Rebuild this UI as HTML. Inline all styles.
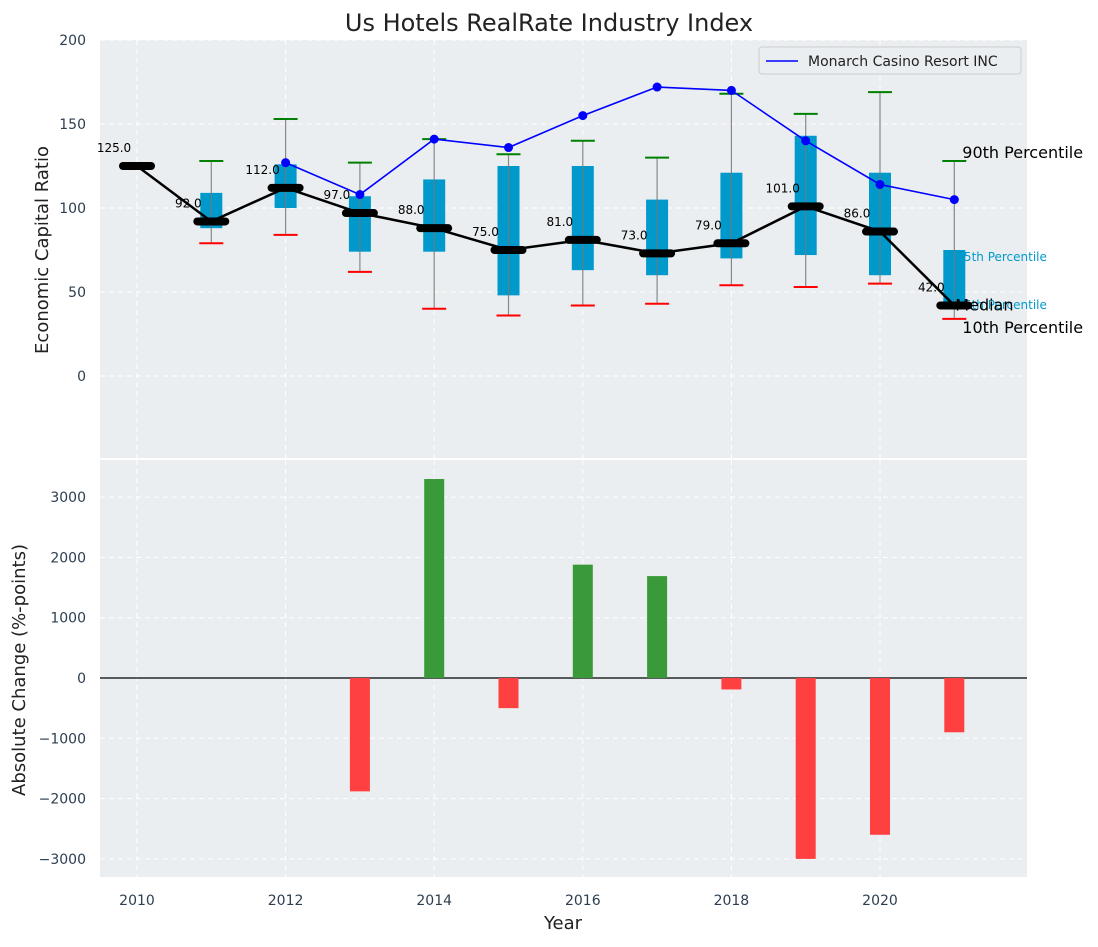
<!DOCTYPE html>
<html><head><meta charset="utf-8"><style>
body{margin:0;background:#fff;font-family:"Liberation Sans","DejaVu Sans",sans-serif}
svg text{font-family:"DejaVu Sans","Liberation Sans",sans-serif}
</style></head><body>
<svg id="c" width="1098" height="942" xmlns="http://www.w3.org/2000/svg"></svg>
<script>
const years=[2010,2011,2012,2013,2014,2015,2016,2017,2018,2019,2020,2021];
const medians=[125,92,112,97,88,75,81,73,79,101,86,42];
const q25=[null,88,100,74,74,48,63,60,70,72,60,40];
const q75=[null,109,126,107,117,125,125,105,121,143,121,75];
const p90=[null,128,153,127,141,132,140,130,168,156,169,128];
const p10=[null,79,84,62,40,36,42,43,54,53,55,34];
const compYears=[2012,2013,2014,2015,2016,2017,2018,2019,2020,2021];
const compVals=[127,108,141,136,155,172,170,140,114,105];
const changeYears=[2013,2014,2015,2016,2017,2018,2019,2020,2021];
const changes=[-1880,3300,-500,1880,1690,-190,-3000,-2600,-900];
const yTicksTop=[0,50,100,150,200];
const yTicksBot=[-3000,-2000,-1000,0,1000,2000,3000];
const xTicks=[2010,2012,2014,2016,2018,2020];

const svg=document.getElementById('c');
const NS='http://www.w3.org/2000/svg';
function el(t,a,p){const e=document.createElementNS(NS,t);for(const k in a)e.setAttribute(k,a[k]);(p||svg).appendChild(e);return e;}
const L=100,R=1027;
const X=v=>137+(v-2010)*74.3;
const T0=40,T1=458,B0=460,B1=877;
const YT=v=>376-v*1.68;
const YB=v=>678-v*0.0603;

let e=el('rect',{x:L,y:T0,width:R-L,height:T1-T0,fill:'#eaeef0'});


e=el('rect',{x:L,y:B0,width:R-L,height:B1-B0,fill:'#eaeef0'});



yTicksTop.forEach(v=>{el('line',{x1:L,x2:R,y1:YT(v),y2:YT(v),stroke:'#fff','stroke-dasharray':'5,4','stroke-width':1});
 e=el('text',{x:L-14,y:YT(v)+5,'text-anchor':'end','font-size':14,fill:'#2c3e50'});e.textContent=v;
 
 });
yTicksBot.forEach(v=>{el('line',{x1:L,x2:R,y1:YB(v),y2:YB(v),stroke:'#fff','stroke-dasharray':'5,4','stroke-width':1});
 e=el('text',{x:L-14,y:YB(v)+5,'text-anchor':'end','font-size':14,fill:'#2c3e50'});e.textContent=String(v).replace('-','\u2212');
 
 });
xTicks.forEach(v=>{el('line',{x1:X(v),x2:X(v),y1:T0,y2:T1,stroke:'#fff','stroke-dasharray':'5,4'});
 el('line',{x1:X(v),x2:X(v),y1:B0,y2:B1,stroke:'#fff','stroke-dasharray':'5,4'});
 e=el('text',{x:X(v),y:905,'text-anchor':'middle','font-size':14,fill:'#2c3e50'});e.textContent=v;
 
 });

const lastI=years.length-1;
e=el('text',{x:X(2021)+2,y:YT(q75[lastI])+11,'font-size':12,fill:'#0099cc'});e.textContent='75th Percentile';


e=el('text',{x:X(2021)+2,y:YT(q25[lastI])+0,'font-size':12,fill:'#0099cc'});e.textContent='25th Percentile';



years.forEach((y,i)=>{
 if(q25[i]==null)return;
 const x=X(y);
 el('line',{x1:x,x2:x,y1:YT(p10[i]),y2:YT(p90[i]),stroke:'#888','stroke-width':1.2});
 e=el('rect',{x:x-11,y:YT(q75[i]),width:22,height:YT(q25[i])-YT(q75[i]),fill:'#0099cc'});
 
 
 el('line',{x1:x,x2:x,y1:YT(q25[i]),y2:YT(q75[i]),stroke:'#777','stroke-width':1});
 e=el('line',{x1:x-12,x2:x+12,y1:YT(p90[i]),y2:YT(p90[i]),stroke:'green','stroke-width':2});
 
 
 e=el('line',{x1:x-12,x2:x+12,y1:YT(p10[i]),y2:YT(p10[i]),stroke:'red','stroke-width':2});
 
 
});
e=el('polyline',{points:years.map((y,i)=>X(y)+','+YT(medians[i])).join(' '),fill:'none',stroke:'#000','stroke-width':2.5});


years.forEach((y,i)=>{
 e=el('line',{x1:X(y)-14,x2:X(y)+14,y1:YT(medians[i]),y2:YT(medians[i]),stroke:'#000','stroke-width':8,'stroke-linecap':'round'});
 
 
 e=el('text',{x:X(y)-23,y:YT(medians[i])-14,'text-anchor':'middle','font-size':12,fill:'#000'});e.textContent=medians[i].toFixed(1);
 
 
});
e=el('polyline',{points:compYears.map((y,i)=>X(y)+','+YT(compVals[i])).join(' '),fill:'none',stroke:'blue','stroke-width':1.6});


compYears.forEach((y,i)=>{e=el('circle',{cx:X(y),cy:YT(compVals[i]),r:4.5,fill:'blue'});
 
 });

[['90th Percentile',YT(p90[lastI])-3,'label-90th'],['Median',YT(medians[lastI])+5,'label-median'],['10th Percentile',YT(p10[lastI])+14,'label-10th']].forEach(a=>{
 e=el('text',{x:a[2]=='label-median'?X(2021)+1:X(2021)+8,y:a[1],'font-size':16,fill:'#000'});e.textContent=a[0];
 
 });

e=el('g',{});


el('rect',{x:759,y:47,width:262,height:27,fill:'#eaeef0',stroke:'#ccc',rx:3},e);
el('line',{x1:766,x2:798,y1:61,y2:61,stroke:'blue','stroke-width':1.6},e);
let t=el('text',{x:808,y:66,'font-size':14,fill:'#222'},e);t.textContent='Monarch Casino Resort INC';

el('line',{x1:L,x2:R,y1:YB(0),y2:YB(0),stroke:'#000','stroke-width':1.2});
changeYears.forEach((y,i)=>{const v=changes[i];
 e=el('rect',{x:X(y)-10,y:Math.min(YB(0),YB(v)),width:20,height:Math.abs(YB(v)-YB(0)),fill:v>=0?'#3a9a3a':'#ff4040'});
 
 });

e=el('text',{x:549,y:31,'text-anchor':'middle','font-size':24,fill:'#222'});e.textContent='Us Hotels RealRate Industry Index';


e=el('text',{x:48,y:250,'text-anchor':'middle','font-size':18,fill:'#222',transform:'rotate(-90 48 250)'});e.textContent='Economic Capital Ratio';


e=el('text',{x:25,y:670,'text-anchor':'middle','font-size':18,fill:'#222',transform:'rotate(-90 25 670)'});e.textContent='Absolute Change (%-points)';


e=el('text',{x:563,y:929,'text-anchor':'middle','font-size':18,fill:'#222'});e.textContent='Year';


</script>
</body></html>
